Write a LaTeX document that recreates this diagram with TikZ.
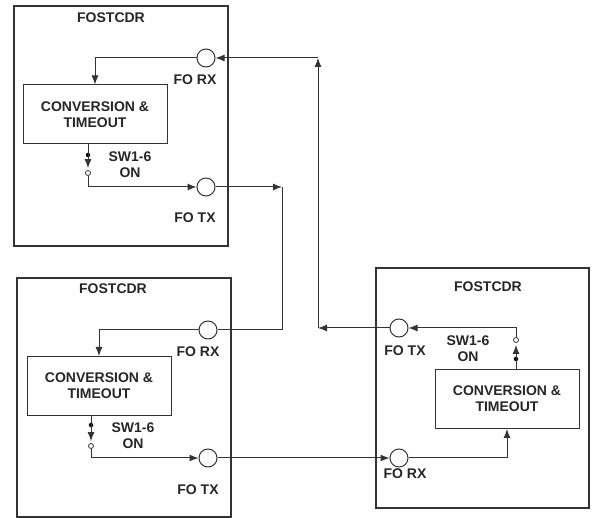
\documentclass[tikz,border=0pt]{standalone}
\usepackage{fontspec}
\setmainfont{Liberation Sans}
\usetikzlibrary{arrows.meta}
\begin{document}
\begin{tikzpicture}[x=1pt,y=-1pt,
  box/.style={draw=black!80, line width=1.3pt, inner sep=0pt},
  conv/.style={draw=black!80, line width=1pt, minimum width=144pt, minimum height=59pt, inner sep=0pt, align=center, font=\fontsize{14}{16}\selectfont\bfseries, text=black!85},
  port/.style={circle, draw=black!80, line width=1pt, minimum size=18pt, inner sep=0pt},
  swc/.style={circle, draw=black!80, line width=0.8pt, minimum size=5pt, inner sep=0pt, fill=white},
  dotn/.style={circle, fill=black, minimum size=4.5pt, inner sep=0pt},
  lbl/.style={font=\fontsize{14}{16}\selectfont\bfseries, align=center, inner sep=0pt, text=black!85},
  wire/.style={draw=black!80, line width=1pt},
  arr/.style={wire, -{Latex[length=9pt,width=7pt]}},
]
\useasboundingbox (0,0) rectangle (595,518);

% ---------- Box A (top left)
\node[box, minimum width=214pt, minimum height=240pt] (boxA) at (121,126) {};
\node[lbl] (tA) at (111,18) {FOSTCDR};
\node[conv] (convA) at (95,114.5) {CONVERSION \&\\TIMEOUT};
\node[port] (rxA) at (206,58) {};
\node[port] (txA) at (206,187) {};
\node[lbl] (rxAl) at (195,80) {FO RX};
\node[lbl] (txAl) at (195,218) {FO TX};
\node[lbl] (swAl) at (130,165) {SW1-6\\ON};
\node[dotn] (dotA) at (88,155) {};
\node[swc] (swA) at (88,173) {};

% ---------- Box B (bottom left)
\node[box, minimum width=214pt, minimum height=239pt] (boxB) at (124,397.5) {};
\node[lbl] (tB) at (113,289) {FOSTCDR};
\node[conv] (convB) at (99,386) {CONVERSION \&\\TIMEOUT};
\node[port] (rxB) at (208,330) {};
\node[port] (txB) at (208,458) {};
\node[lbl] (rxBl) at (198,352) {FO RX};
\node[lbl] (txBl) at (198,490) {FO TX};
\node[lbl] (swBl) at (133,436) {SW1-6\\ON};
\node[dotn] (dotB) at (91,425) {};
\node[swc] (swB) at (91,446) {};

% ---------- Box C (right)
\node[box, minimum width=213pt, minimum height=240pt] (boxC) at (482.5,388) {};
\node[lbl] (tC) at (488,287) {FOSTCDR};
\node[conv] (convC) at (507,399) {CONVERSION \&\\TIMEOUT};
\node[port] (txC) at (399,328) {};
\node[port] (rxC) at (399,458) {};
\node[lbl] (txCl) at (405,351) {FO TX};
\node[lbl] (rxCl) at (405,474) {FO RX};
\node[lbl] (swCl) at (468,349) {SW1-6\\ON};
\node[dotn] (dotC) at (516,359) {};
\node[swc] (swC) at (516,340) {};

% ---------- internal wiring A
\draw[arr] (rxA.west) -| (convA.north);
\draw[wire] (convA.south -| dotA) -- (dotA.center);
\draw[arr] (dotA.center) -- ([yshift=2pt]swA.north);
\draw[arr] (swA.south) |- (txA.west);

% ---------- internal wiring B
\draw[arr] (rxB.west) -| (convB.north);
\draw[wire] (convB.south -| dotB) -- (dotB.center);
\draw[arr] (dotB.center) -- ([yshift=2pt]swB.north);
\draw[arr] (swB.south) |- (txB.west);

% ---------- internal wiring C
\draw[arr] (rxC.east) -| (convC.south);
\draw[wire] (convC.north -| dotC) -- (dotC.center);
\draw[arr] (dotC.center) -- ([yshift=-2pt]swC.south);
\draw[arr] (swC.north) |- (txC.east);

% ---------- links between units
\coordinate (cAB) at (282,187);
\draw[arr] (txA.east) -- (cAB);
\draw[wire] (cAB) |- (rxB.east);

\coordinate (cC1) at (318,328);
\coordinate (cC2) at (318,58);
\draw[arr] (txC.west) -- (cC1);
\draw[arr] (cC1) -- (cC2);
\draw[arr] (cC2) -- (rxA.east);

\draw[arr] (txB.east) -- (rxC.west);
\end{tikzpicture}
\end{document}
